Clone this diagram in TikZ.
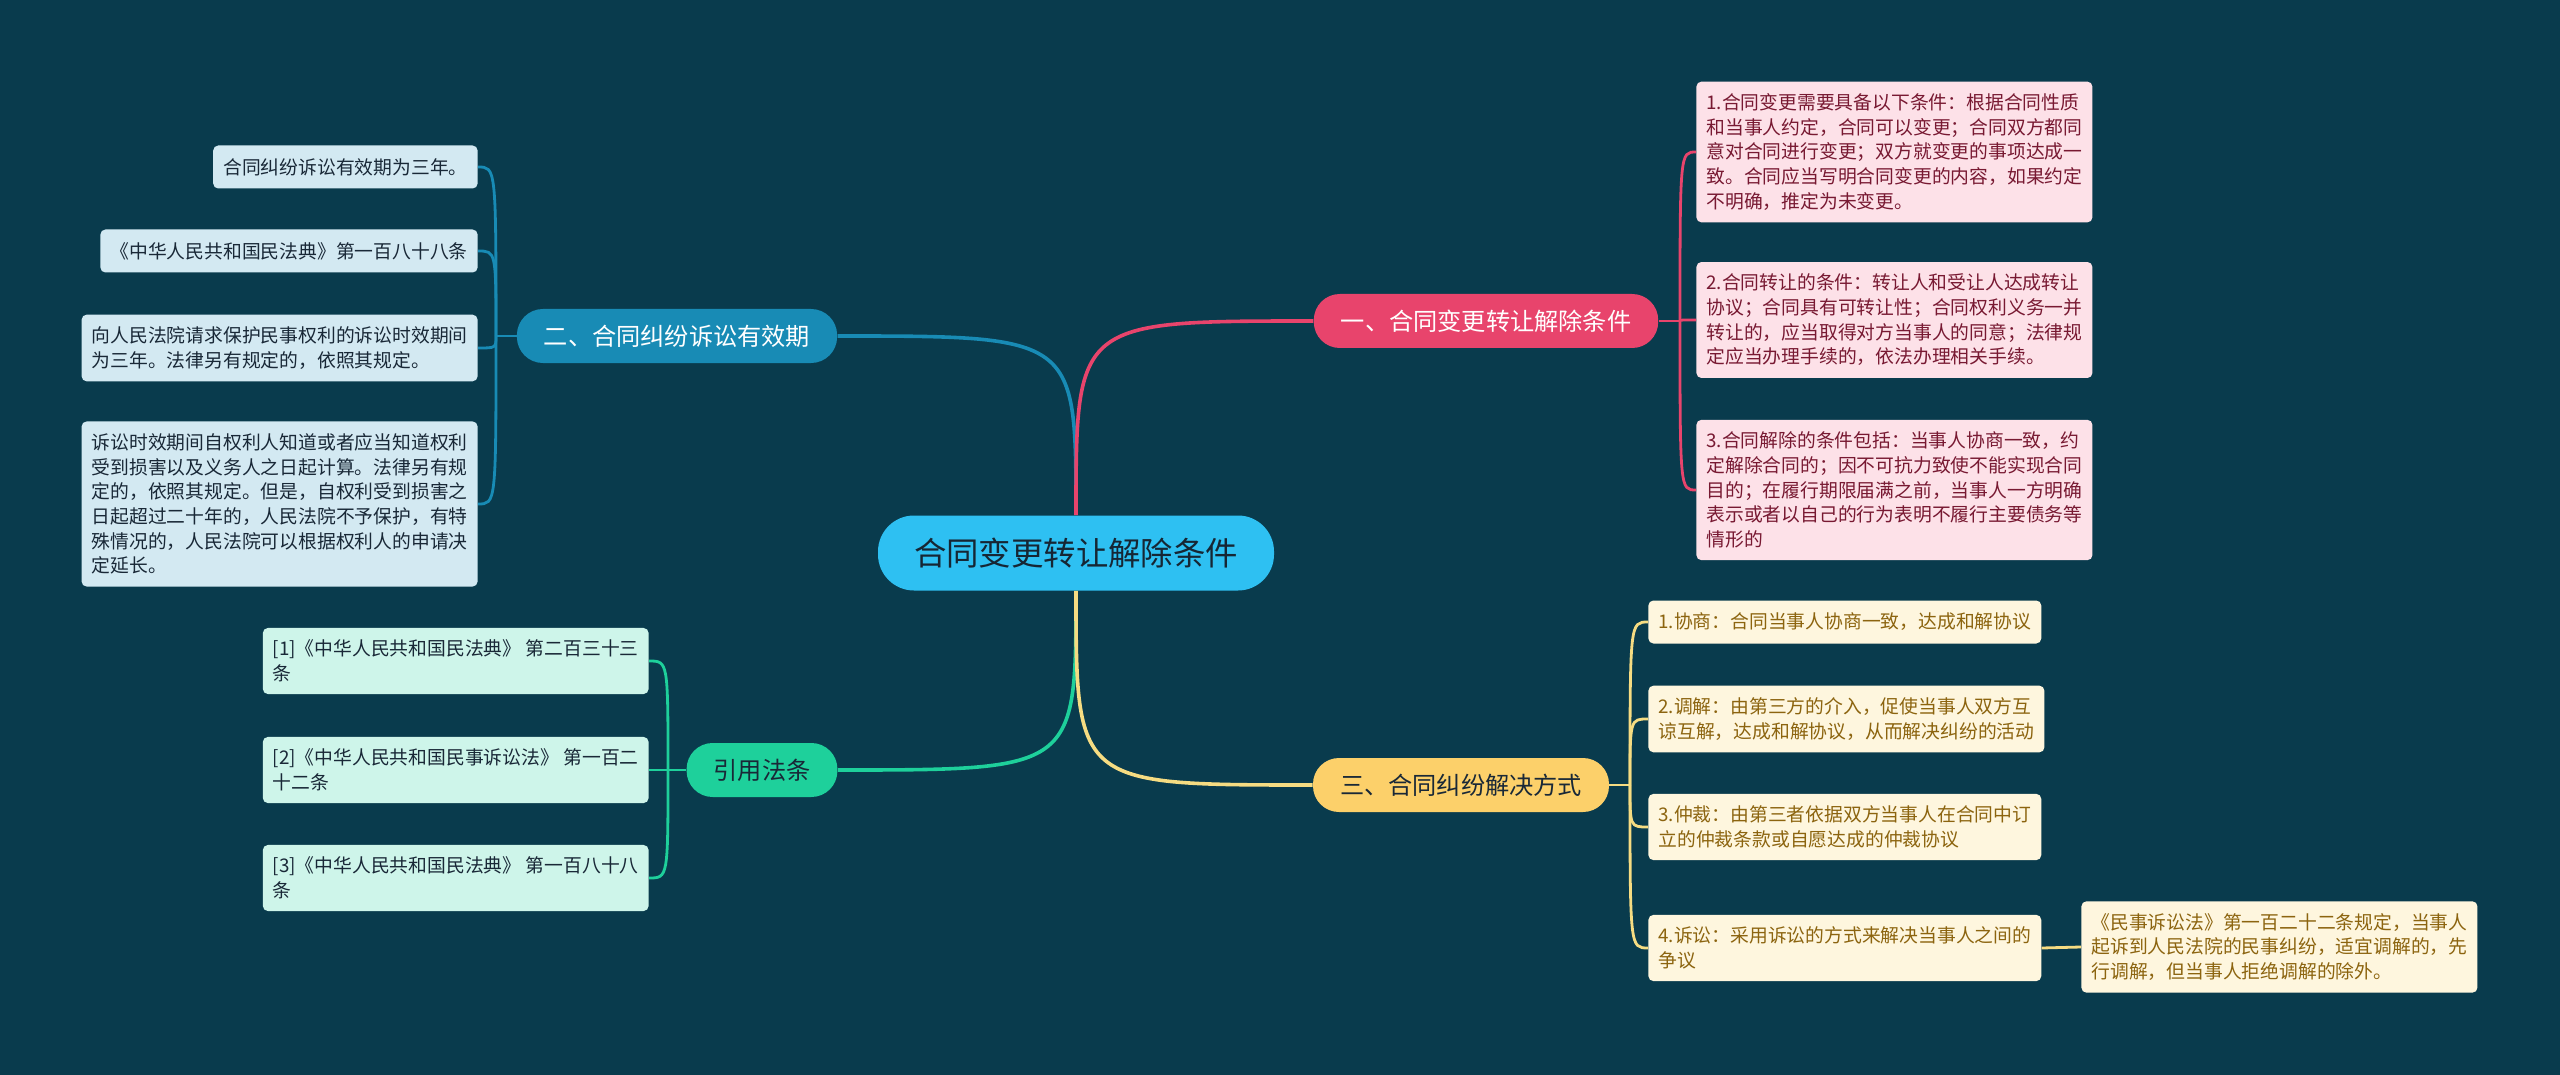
\documentclass[tikz,border=0pt]{standalone}
\usepackage{fontspec}
\newfontfamily\cjkfont{Noto Sans CJK SC}
\definecolor{MmBg}{RGB}{9,59,77}
\definecolor{MmRoot}{RGB}{46,192,242}
\definecolor{MmRootText}{RGB}{22,38,52}
\definecolor{MmBlue}{RGB}{24,139,181}
\definecolor{MmPink}{RGB}{232,68,108}
\definecolor{MmGreen}{RGB}{30,208,155}
\definecolor{MmYellow}{RGB}{252,208,106}
\definecolor{MmYellowLine}{RGB}{246,220,130}
\definecolor{MmBlueLeaf}{RGB}{211,233,242}
\definecolor{MmPinkLeaf}{RGB}{253,225,232}
\definecolor{MmGoldLeaf}{RGB}{254,246,222}
\definecolor{MmMintLeaf}{RGB}{206,245,234}
\definecolor{MmDarkText}{RGB}{25,40,55}
\definecolor{MmPinkText}{RGB}{120,25,50}
\definecolor{MmGoldText}{RGB}{140,100,15}
\tikzset{
  mm/root/.style={
    fill=MmRoot,
    text=MmRootText,
    rounded corners=18pt,
    minimum height=37.5pt,
    inner xsep=18pt,
    font=\cjkfont\fontsize{16.2pt}{19pt}\selectfont
  },
  mm/main/.style={
    rounded corners=13pt,
    minimum height=27pt,
    inner xsep=13.5pt,
    font=\cjkfont\fontsize{12.1pt}{14pt}\selectfont
  },
  mm/leaf/.style={
    rounded corners=2.5pt,
    align=left,
    inner xsep=5pt,
    inner ysep=6pt,
    minimum height=21.5pt,
    font=\cjkfont\fontsize{9.4pt}{12.35pt}\selectfont
  },
  mm/leafblue/.style={mm/leaf, fill=MmBlueLeaf, text=MmDarkText, anchor=east},
  mm/leafmint/.style={mm/leaf, fill=MmMintLeaf, text=MmDarkText, anchor=east},
  mm/leafpink/.style={mm/leaf, fill=MmPinkLeaf, text=MmPinkText, anchor=west},
  mm/leafgold/.style={mm/leaf, fill=MmGoldLeaf, text=MmGoldText, anchor=west},
  mm/curve/.style={to path={.. controls (\tikztostart |- \tikztotarget) .. (\tikztotarget)}},
  mm/trunk/.style={line width=1.8pt},
  mm/twig/.style={line width=1.4pt}
}

\begin{document}
\begin{tikzpicture}[x=0.5pt,y=-0.5pt]
  \fill[MmBg] (0,0) rectangle (2560,1075);
  \useasboundingbox (0,0) rectangle (2560,1075);

  % centre and main topics
  \node[mm/root] (root) at (1076,553) {合同变更转让解除条件};
  \node[mm/main, fill=MmBlue, text=white] (b2) at (677,336) {二、合同纠纷诉讼有效期};
  \node[mm/main, fill=MmPink, text=white] (b1) at (1486,321) {一、合同变更转让解除条件};
  \node[mm/main, fill=MmGreen, text=MmDarkText] (b4) at (762,770) {引用法条};
  \node[mm/main, fill=MmYellow, text=MmDarkText] (b3) at (1461,785) {三、合同纠纷解决方式};

  \draw[mm/trunk, MmBlue, mm/curve] (root.north) to (b2.east);
  \draw[mm/trunk, MmPink, mm/curve] (root.north) to (b1.west);
  \draw[mm/trunk, MmGreen, mm/curve] (root.south) to (b4.east);
  \draw[mm/trunk, MmYellowLine, mm/curve] (root.south) to (b3.west);

  % 二
  \node[mm/leafblue] (l1) at (478,167) {合同纠纷诉讼有效期为三年。};
  \node[mm/leafblue] (l2) at (478,251) {《中华人民共和国民法典》第一百八十八条};
  \node[mm/leafblue] (l3) at (478,348) {向人民法院请求保护民事权利的诉讼时效期间\\为三年。法律另有规定的，依照其规定。};
  \node[mm/leafblue] (l4) at (478,504) {诉讼时效期间自权利人知道或者应当知道权利\\受到损害以及义务人之日起计算。法律另有规\\定的，依照其规定。但是，自权利受到损害之\\日起超过二十年的，人民法院不予保护，有特\\殊情况的，人民法院可以根据权利人的申请决\\定延长。};
  \coordinate (j2) at (496,336);
  \draw[mm/twig, MmBlue] (b2.west) -- (j2);
  \foreach \i in {1,...,4}
    \draw[mm/twig, MmBlue, mm/curve] (j2) to (l\i.east);

  % 引用法条
  \node[mm/leafmint] (g1) at (649,661) {[1]《中华人民共和国民法典》 第二百三十三\\条};
  \node[mm/leafmint] (g2) at (649,770) {[2]《中华人民共和国民事诉讼法》 第一百二\\十二条};
  \node[mm/leafmint] (g3) at (649,878) {[3]《中华人民共和国民法典》 第一百八十八\\条};
  \coordinate (j4) at (668,770);
  \draw[mm/twig, MmGreen] (b4.west) -- (j4);
  \foreach \i in {1,...,3}
    \draw[mm/twig, MmGreen, mm/curve] (j4) to (g\i.east);

  % 一
  \node[mm/leafpink] (r1) at (1696,152) {1.合同变更需要具备以下条件：根据合同性质\\和当事人约定，合同可以变更；合同双方都同\\意对合同进行变更；双方就变更的事项达成一\\致。合同应当写明合同变更的内容，如果约定\\不明确，推定为未变更。};
  \node[mm/leafpink] (r2) at (1696,320) {2.合同转让的条件：转让人和受让人达成转让\\协议；合同具有可转让性；合同权利义务一并\\转让的，应当取得对方当事人的同意；法律规\\定应当办理手续的，依法办理相关手续。};
  \node[mm/leafpink] (r3) at (1696,490) {3.合同解除的条件包括：当事人协商一致，约\\定解除合同的；因不可抗力致使不能实现合同\\目的；在履行期限届满之前，当事人一方明确\\表示或者以自己的行为表明不履行主要债务等\\情形的};
  \coordinate (j1) at (1680,321);
  \draw[mm/twig, MmPink] (b1.east) -- (j1);
  \foreach \i in {1,...,3}
    \draw[mm/twig, MmPink, mm/curve] (j1) to (r\i.west);

  % 三
  \node[mm/leafgold] (y1) at (1648,622) {1.协商：合同当事人协商一致，达成和解协议};
  \node[mm/leafgold] (y2) at (1648,719) {2.调解：由第三方的介入，促使当事人双方互\\谅互解，达成和解协议，从而解决纠纷的活动};
  \node[mm/leafgold] (y3) at (1648,827) {3.仲裁：由第三者依据双方当事人在合同中订\\立的仲裁条款或自愿达成的仲裁协议};
  \node[mm/leafgold] (y4) at (1648,948) {4.诉讼：采用诉讼的方式来解决当事人之间的\\争议};
  \node[mm/leafgold] (y5) at (2081,947) {《民事诉讼法》第一百二十二条规定，当事人\\起诉到人民法院的民事纠纷，适宜调解的，先\\行调解，但当事人拒绝调解的除外。};
  \coordinate (j3) at (1630,785);
  \draw[mm/twig, MmYellowLine] (b3.east) -- (j3);
  \foreach \i in {1,...,4}
    \draw[mm/twig, MmYellowLine, mm/curve] (j3) to (y\i.west);
  \draw[mm/twig, MmYellowLine] (y4.east) -- (y5.west);
\end{tikzpicture}
\end{document}
